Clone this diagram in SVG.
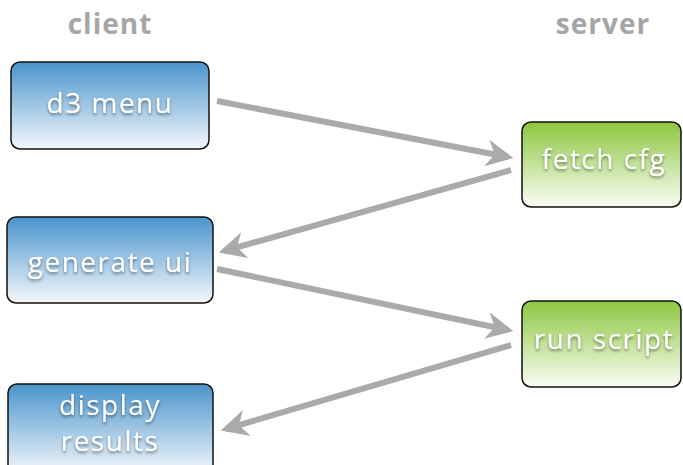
<svg xmlns="http://www.w3.org/2000/svg" width="683" height="465" viewBox="0 0 683 465">
<style>
.hdr{font-family:"Open Sans","Liberation Sans",sans-serif;font-weight:700;font-size:28px;letter-spacing:1px;fill:#a6a6a6;text-anchor:middle}
.lbl{font-family:"Open Sans","Liberation Sans",sans-serif;font-size:28px;letter-spacing:1.5px;fill:#ffffff;text-anchor:middle;filter:url(#sh)}
.box{stroke:#111;stroke-width:1.5}
.conn{stroke:#aaaaaa;stroke-width:6;fill:none;marker-end:url(#ah)}
</style>
<defs>
<linearGradient id="gb" x1="0" y1="0" x2="0" y2="1">
<stop offset="0" stop-color="#4a94cc"/><stop offset="1" stop-color="#f4f8fc"/>
</linearGradient>
<linearGradient id="gg" x1="0" y1="0" x2="0" y2="1">
<stop offset="0" stop-color="#8dc63f"/><stop offset="1" stop-color="#fafdf6"/>
</linearGradient>
<filter id="sh" x="-20%" y="-40%" width="140%" height="180%">
<feDropShadow dx="0" dy="2" stdDeviation="1.6" flood-color="#000" flood-opacity="0.45"/>
</filter>
<marker id="ah" viewBox="0 0 10 10" refX="8" refY="5" markerWidth="4.5" markerHeight="4.5" orient="auto" markerUnits="strokeWidth">
<path d="M0,0 L10,5 L0,10 L3,5 Z" fill="#aaaaaa"/>
</marker>
</defs>
<text class="hdr" x="110" y="34">client</text>
<text class="hdr" x="603" y="34">server</text>
<g id="connectors">
<line class="conn" x1="217" y1="101" x2="508" y2="157"/>
<line class="conn" x1="511" y1="170" x2="224" y2="251"/>
<line class="conn" x1="217" y1="269" x2="508" y2="330"/>
<line class="conn" x1="511" y1="345" x2="226" y2="429"/>
</g>
<g id="d3menu">
<rect class="box" x="11" y="62" width="198" height="87" rx="9" fill="url(#gb)"/>
<text class="lbl" x="110" y="113">d3 menu</text>
</g>
<g id="fetchcfg">
<rect class="box" x="522" y="122" width="159" height="85" rx="9" fill="url(#gg)"/>
<text class="lbl" x="604" y="169">fetch cfg</text>
</g>
<g id="generateui">
<rect class="box" x="7" y="217" width="206" height="86" rx="9" fill="url(#gb)"/>
<text class="lbl" x="110" y="272">generate ui</text>
</g>
<g id="runscript">
<rect class="box" x="522" y="301" width="159" height="86" rx="9" fill="url(#gg)"/>
<text class="lbl" x="604" y="349">run script</text>
</g>
<g id="displayresults">
<rect class="box" x="8" y="384" width="205" height="90" rx="9" fill="url(#gb)"/>
<text class="lbl" x="110" y="415">display</text>
<text class="lbl" x="110" y="451">results</text>
</g>
</svg>
